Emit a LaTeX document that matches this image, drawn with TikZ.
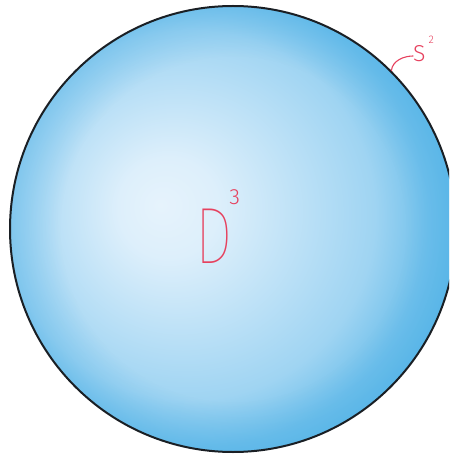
\documentclass[tikz,border=0pt]{standalone}
\usepackage{fontspec}
\newfontfamily\handfont{Fira Sans}[UprightFont={* Light}]
\newfontfamily\thinfont{Fira Sans}[UprightFont={* Thin}]
\usetikzlibrary{positioning,fadings}
\definecolor{penRed}  {HTML}{E6415E}
\definecolor{ballA}   {HTML}{E6F3FC}
\definecolor{ballB}   {HTML}{DDEFFB}
\definecolor{ballC}   {HTML}{B8DFF6}
\definecolor{ballD}   {HTML}{9FD4F2}
\definecolor{ballE}   {HTML}{70C0EB}
\definecolor{ballF}   {HTML}{50B3E7}
\definecolor{rimBl}   {HTML}{4AAFE6}
\definecolor{ballEdge}{HTML}{1A1F24}
\pgfdeclareradialshading{ballshade}{\pgfpoint{-8.2bp}{2.7bp}}{%
  color(0bp)=(ballA); color(5.6bp)=(ballB); color(14.6bp)=(ballC);
  color(20.7bp)=(ballD); color(25.8bp)=(ballE); color(32.5bp)=(ballF); color(50bp)=(ballF)}
\pgfdeclareradialshading{rimmask}{\pgfpointorigin}{%
  color(0bp)=(transparent!100); color(17bp)=(transparent!100);
  color(25bp)=(transparent!40); color(50bp)=(transparent!40)}
\begin{tikzfadingfrompicture}[name=rimfade]
  \shade[shading=rimmask] (0,0) circle (1cm);
\end{tikzfadingfrompicture}

\begin{document}
\begin{tikzpicture}[x=1pt, y=-1pt,
   ball/.style={circle, draw=ballEdge, line width=2pt, shade, shading=ballshade,
                minimum size=446pt, inner sep=0pt,
                path picture={\fill[rimBl, path fading=rimfade]
                  (path picture bounding box.center) circle (223pt);}},
   hand/.style={text=penRed, inner sep=0pt, font=\handfont},
   pen/.style={draw=penRed, line width=1.1pt, line cap=round}
]
\useasboundingbox (0,0) rectangle (449,454);
\clip (0,0) rectangle (449,454);
\node[ball] (disk) at (233,229) {};
% labels
\node[hand, anchor=base west] (diskLab) at (195,263)
  {\thinfont\fontsize{80}{80}\selectfont\scalebox{0.75}[1]{D}\kern-3pt\raisebox{59pt}{\handfont\fontsize{22}{22}\selectfont 3}};
\node[hand, anchor=base west] (sphLab) at (413,62)
  {\fontsize{23}{23}\selectfont S\kern3pt\raisebox{18pt}{\fontsize{11}{11}\selectfont 2}};
\draw[pen] (disk.45) .. controls +(1,-10) and +(-9,0) .. ([yshift=6pt]sphLab.base west);
\end{tikzpicture}
\end{document}
